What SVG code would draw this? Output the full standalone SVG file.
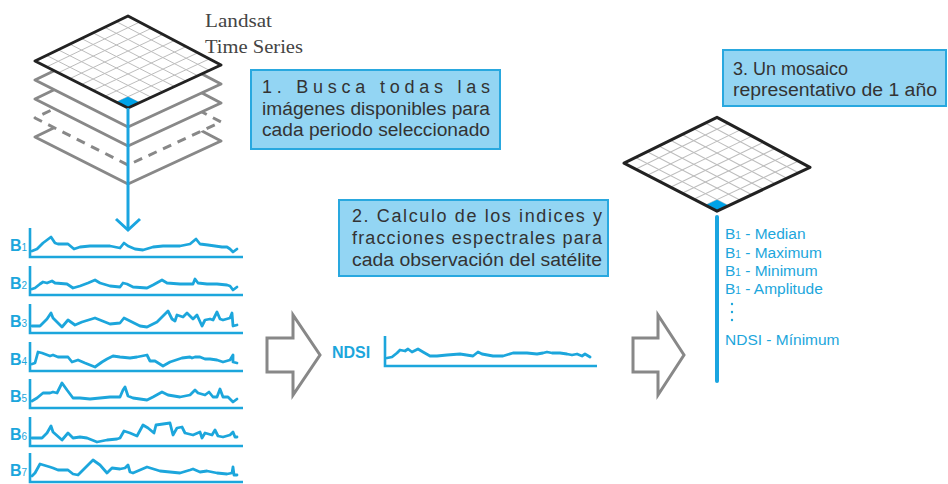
<svg xmlns="http://www.w3.org/2000/svg" xmlns:xlink="http://www.w3.org/1999/xlink" width="948" height="484" viewBox="0 0 948 484">
<style>
.box{fill:#93D5F3;stroke:#29A8DF;stroke-width:2}
.bt{font-family:"Liberation Sans",Arial,sans-serif;font-size:18px;fill:#333}
.lbl{font-family:"Liberation Sans",Arial,sans-serif;font-weight:bold;font-size:16px;fill:#1CA6DC}
.sub{font-size:10px;font-weight:normal}
.lst{font-family:"Liberation Sans",Arial,sans-serif;font-size:15.5px;fill:#1CA6DC}
.lst .sub{font-size:10px}
.axis{fill:none;stroke:#1CA6DC;stroke-width:2.6}
.ser{fill:none;stroke:#1CA6DC;stroke-width:2.8;stroke-linejoin:round;stroke-linecap:round}
.gray{fill:#fff;stroke:#888;stroke-width:3;stroke-linejoin:round}
.dash{stroke-dasharray:9 7}
.arrow{fill:#fff;stroke:#888;stroke-width:3;stroke-linejoin:miter}
.blue{stroke:#1AA5E0;fill:none}
</style>
<defs>
<path id="dia" d="M128,16 L221,65 L128,108 L35,61 Z"/>
<g id="tile">
<path d="M128,16 L221,65 L128,108 L35,61 Z" fill="#fff"/>
<g stroke="#bdbdbd" stroke-width="1" fill="none">
<path d="M116.4,21.6L209.4,70.4M104.8,27.3L197.8,75.8M93.1,32.9L186.1,81.1M81.5,38.5L174.5,86.5M69.9,44.1L162.9,91.9M58.3,49.8L151.3,97.3M46.6,55.4L139.6,102.6"/>
<path d="M139.6,22.1L46.6,66.9M151.3,28.3L58.3,72.8M162.9,34.4L69.9,78.6M174.5,40.5L81.5,84.5M186.1,46.6L93.1,90.4M197.8,52.8L104.8,96.3M209.4,58.9L116.4,102.1"/>
</g>
<polygon points="128,108 116.4,102.1 128,96.7 139.6,102.6" fill="#00A3E8"/>
<path d="M128,16 L221,65 L128,108 L35,61 Z" fill="none" stroke="#222" stroke-width="3" stroke-linejoin="round"/>
</g>
</defs>

<g id="stack">
<use xlink:href="#dia" href="#dia" class="gray" y="76"/>
<use xlink:href="#dia" href="#dia" class="gray dash" y="57"/>
<use xlink:href="#dia" href="#dia" class="gray" y="38"/>
<use xlink:href="#dia" href="#dia" class="gray" y="19"/>
<use xlink:href="#tile" href="#tile"/>
<text x="205" y="27" font-family="Liberation Serif,Times New Roman,serif" font-size="19" fill="#444" textLength="67" lengthAdjust="spacingAndGlyphs">Landsat</text>
<text x="205" y="53" font-family="Liberation Serif,Times New Roman,serif" font-size="19" fill="#444" textLength="98" lengthAdjust="spacingAndGlyphs">Time Series</text>
</g>

<g id="box1">
<rect class="box" x="251" y="70" width="249" height="79"/>
<text class="bt" x="262" y="93" textLength="228" lengthAdjust="spacing">1. Busca todas las</text>
<text class="bt" x="262" y="115" textLength="228" lengthAdjust="spacingAndGlyphs">imágenes disponibles para</text>
<text class="bt" x="262" y="136" textLength="228" lengthAdjust="spacingAndGlyphs">cada periodo seleccionado</text>
</g>

<g id="box2">
<rect class="box" x="339" y="200" width="269" height="76"/>
<text class="bt" x="352" y="222" textLength="250" lengthAdjust="spacing">2. Calculo de los indices y</text>
<text class="bt" x="352" y="244" textLength="250" lengthAdjust="spacing">fracciones espectrales para</text>
<text class="bt" x="352" y="266" textLength="250" lengthAdjust="spacingAndGlyphs">cada observación del satélite</text>
</g>

<g id="box3">
<rect class="box" x="723" y="50" width="223" height="56"/>
<text class="bt" x="733" y="75" font-size="18.5">3. Un mosaico</text>
<text class="bt" x="733" y="96" font-size="18.5" textLength="204" lengthAdjust="spacingAndGlyphs">representativo de 1 año</text>
</g>

<g id="charts">
<text class="lbl" x="10" y="251">B<tspan class="sub">1</tspan></text>
<path class="axis" d="M30,228V257H243"/>
<polyline class="ser" points="32,251 37,249 43,243 51,237 55,243 58,244 68,244 74,249 80,247 90,246 110,246 120,248 124,243 128,246 135,249 143,250 153,247 163,246 180,246 190,244 196,239 200,244 208,245 215,246 222,247 227,247 230,249 233,252 237,249"/>
<text class="lbl" x="10" y="289">B<tspan class="sub">2</tspan></text>
<path class="axis" d="M30,266V295H243"/>
<polyline class="ser" points="32,289 35,288 40,284 43,282 47,283 52,281 55,283 67,284 73,288 80,286 88,283 95,280 100,283 110,286 120,287 123,283 127,284 133,287 147,288 153,285 162,280 167,283 180,284 193,284 195,279 198,283 207,284 217,284 227,285 230,286 233,290 237,287"/>
<text class="lbl" x="10" y="327">B<tspan class="sub">3</tspan></text>
<path class="axis" d="M30,304V333H243"/>
<polyline class="ser" points="32,326 40,326 47,319 51,313 53,318 62,327 68,320 75,325 82,322 95,318 110,324 120,323 124,318 128,320 140,326 147,327 157,322 165,314 168,311 172,319 175,321 177,315 183,317 187,313 193,319 197,315 202,326 205,320 210,319 213,320 217,312 220,319 223,320 230,318 232,313 233,326 237,325"/>
<text class="lbl" x="10" y="365">B<tspan class="sub">4</tspan></text>
<path class="axis" d="M30,342V371H243"/>
<polyline class="ser" points="32,364 35,363 38,352 42,353 50,356 53,355 58,357 68,357 72,362 78,360 85,363 95,367 102,362 107,359 113,356 120,357 130,358 137,357 147,355 150,361 155,361 163,366 170,362 182,358 190,357 192,358 195,357 200,357 205,359 210,359 217,360 223,362 230,360 233,355 233,362 237,363"/>
<text class="lbl" x="10" y="402">B<tspan class="sub">5</tspan></text>
<path class="axis" d="M30,379V408H243"/>
<polyline class="ser" points="32,401 37,398 43,393 50,393 53,392 57,393 62,383 67,390 73,398 80,398 90,399 110,397 120,397 123,390 125,387 128,396 133,398 147,400 153,397 162,392 168,395 180,397 190,395 195,390 198,393 205,395 209,392 213,397 217,397 220,389 223,397 228,397 233,402 237,399"/>
<text class="lbl" x="10" y="440">B<tspan class="sub">6</tspan></text>
<path class="axis" d="M30,417V446H243"/>
<polyline class="ser" points="32,438 42,438 47,433 51,426 53,432 62,440 68,433 73,438 80,437 87,438 97,442 107,440 117,439 120,438 124,431 130,433 137,436 143,425 148,428 154,433 156,425 170,423 173,435 177,428 182,427 185,433 193,435 200,432 202,438 205,433 212,435 215,430 218,436 223,437 230,435 233,432 235,437 237,437"/>
<text class="lbl" x="10" y="476">B<tspan class="sub">7</tspan></text>
<path class="axis" d="M30,453V482H243"/>
<polyline class="ser" points="32,476 35,473 40,464 50,467 53,468 58,470 68,470 73,474 78,475 83,470 93,460 100,465 107,473 112,468 120,469 125,468 128,465 130,472 133,473 147,467 160,471 180,473 190,470 193,469 200,472 207,471 217,473 227,474 232,473 233,467 234,475 237,475"/>
</g>

<g id="ndsi">
<text class="lbl" x="332" y="358" font-size="15">NDSI</text>
<path class="axis" d="M385,336V366H597"/>
<polyline class="ser" points="387,358 392,357 397,353 400,350 405,351 408,349 412,352 418,349 423,352 430,356 437,356 447,355 460,354 473,356 478,352 482,354 493,356 503,356 513,353 520,353 527,353 537,354 543,353 547,352 552,353 560,353 567,354 572,355 577,354 582,356 585,354 590,357"/>
</g>

<g id="mosaic">
<use xlink:href="#tile" href="#tile" transform="translate(589,101) scale(1,1.02)"/>
</g>

<g id="list">
<text class="lst" x="725" y="239">B<tspan class="sub">1</tspan> - Median</text>
<text class="lst" x="725" y="258">B<tspan class="sub">1</tspan> - Maximum</text>
<text class="lst" x="725" y="276">B<tspan class="sub">1</tspan> - Minimum</text>
<text class="lst" x="725" y="294">B<tspan class="sub">1</tspan> - Amplitude</text>
<circle cx="732" cy="304" r="1.2" fill="#1CA6DC"/>
<circle cx="732" cy="312" r="1.2" fill="#1CA6DC"/>
<circle cx="732" cy="320" r="1.2" fill="#1CA6DC"/>
<text class="lst" x="725" y="345">NDSI - Mínimum</text>
</g>

<g id="connectors">
<path class="blue" d="M128,108V229" stroke-width="3"/>
<polyline class="blue" points="116,219 128,230 140,219" stroke-width="3"/>
<path class="blue" d="M717,217V381" stroke-width="4" stroke-linecap="round"/>
<polygon class="arrow" points="267,338 293,338 293,315 320,355 293,395 293,372 267,372"/>
<polygon class="arrow" points="633,338 658,338 658,315 684,355 658,395 658,372 633,372"/>
</g>
</svg>
